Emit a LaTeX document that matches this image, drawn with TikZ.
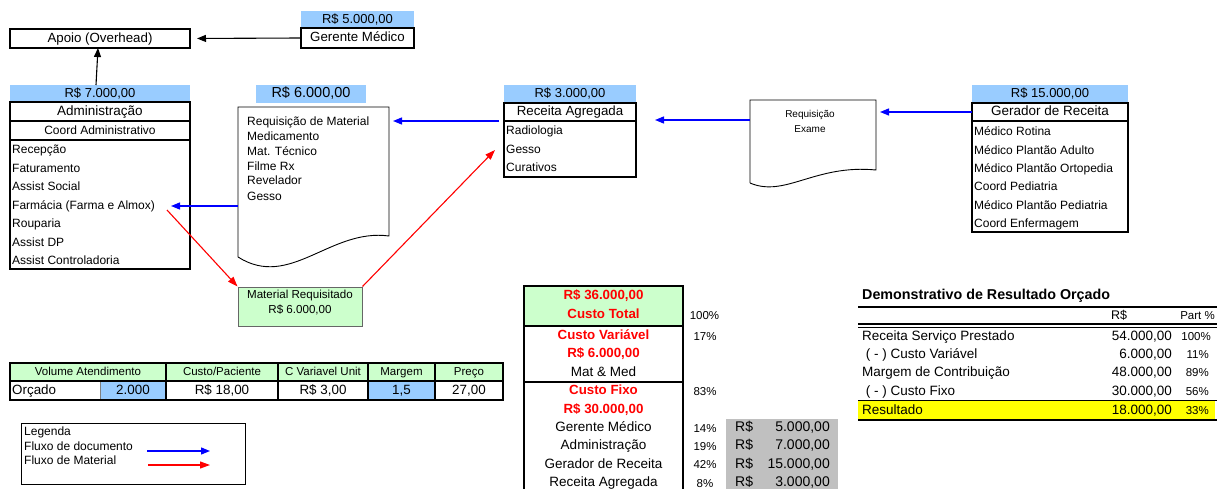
\documentclass[tikz,border=0pt]{standalone}
\usepackage{fontspec}
\setmainfont{Liberation Sans}
\usetikzlibrary{arrows.meta}
\definecolor{lblue}{HTML}{99CCFF}
\definecolor{lgreen}{HTML}{CCFFCC}
\definecolor{lgray}{HTML}{C0C0C0}
\definecolor{yel}{HTML}{FFFF00}
\newcommand{\myfs}[1]{\fontsize{#1}{#1}\selectfont}
\begin{document}
\begin{tikzpicture}[x=1pt,y=-1pt,
  money/.style={fill=lblue,inner sep=0pt,outer sep=0pt,text height=0.72em,text depth=0pt,font=\myfs{13}},
  tbox/.style={draw,line width=1.8pt,inner sep=0pt,outer sep=0pt,text height=0.72em,text depth=0pt,font=\myfs{13.3}},
  item/.style={anchor=west,inner sep=0pt,text height=0.72em,text depth=0pt,font=\myfs{12}},
  ctr/.style={anchor=center,inner sep=0pt,text height=0.72em,text depth=0pt,font=\myfs{12}},
  redb/.style={ctr,text=red,font=\myfs{13.3}\bfseries},
  pct/.style={ctr,font=\myfs{11.5}},
  doca/.style={draw=blue,line width=1.3pt,-{Triangle[length=9pt,width=7pt]}},
  mata/.style={draw=red,line width=1.1pt,-{Triangle[length=10pt,width=7pt]}},
  blka/.style={draw=black,line width=1.1pt,-{Triangle[length=9pt,width=7pt]}},
  docshape/.style={draw,line width=0.9pt,fill=white}
]
\useasboundingbox (0,0) rectangle (1217,489);

% ---------- top
\node[money,minimum width=113,minimum height=17] (m5) at (357.5,19.5) {R\$ 5.000,00};
\node[tbox,minimum width=113,minimum height=20] (gerente) at (357.5,38) {Gerente Médico};
\node[tbox,minimum width=180,minimum height=19] (apoio) at (100,38.5) {Apoio (Overhead)};
\draw[blka,shorten >=7pt] (gerente.west) -- (apoio.east);

% ---------- administracao
\node[money,minimum width=180,minimum height=17] (m7) at (100,93.5) {R\$ 7.000,00};
\draw[blka] ([xshift=-4pt]m7.north) -- ([xshift=-2pt]apoio.south);
\node[tbox,minimum width=180,minimum height=19,font=\myfs{13.5}] (adm) at (100,111.5) {Administração};
\node[tbox,minimum width=180,minimum height=19,font=\myfs{12}] (coord) at (100,130.5) {Coord Administrativo};
\node[tbox,minimum width=180,minimum height=129] (admlist) at (100,204.5) {};
\node[item] (a1) at (12,150) {Recepção};
\node[item] (a2) at (12,168.5) {Faturamento};
\node[item] (a3) at (12,187) {Assist Social};
\node[item] (farm) at (12,205.5) {Farmácia (Farma e Almox)};
\node[item] (a5) at (12,224) {Rouparia};
\node[item] (a6) at (12,242.5) {Assist DP};
\node[item] (a7) at (12,261) {Assist Controladoria};

% ---------- document A
\node[money,minimum width=110,minimum height=18,font=\myfs{14.5}] (m6) at (311,94) {R\$ 6.000,00};
\draw[docshape] (238,257) -- (238,107) -- (389,107) -- (389,236) .. controls (330,228) and (290,290) .. (238,257);
\node[inner sep=0pt,minimum width=151,minimum height=150] (docA) at (313.5,182) {};
\node[item] (d1) at (247,122) {Requisição de Material};
\node[item] (d2) at (247,137) {Medicamento};
\node[item] (d3) at (247,152) {Mat. Técnico};
\node[item] (d4) at (247,166.5) {Filme Rx};
\node[item] (d5) at (247,181) {Revelador};
\node[item] (d6) at (247,196.5) {Gesso};
\coordinate (farmtip) at (171,206);
\draw[doca] (docA.west |- farmtip) -- (farmtip);

% ---------- receita agregada
\node[money,minimum width=132,minimum height=18] (m3) at (570,94) {R\$ 3.000,00};
\node[tbox,minimum width=132,minimum height=18] (rec) at (570,112) {Receita Agregada};
\node[tbox,minimum width=132,minimum height=56] (reclist) at (570,149) {};
\node[item] (r1) at (506,131) {Radiologia};
\node[item] (r2) at (506,149.5) {Gesso};
\node[item] (r3) at (506,167.5) {Curativos};
\coordinate (docAin) at (393,121);
\draw[doca] ([xshift=-5pt]rec.south west) -- (docAin);

% ---------- document B
\draw[docshape] (750,183) -- (750,100) -- (876,100) -- (876,170) .. controls (815,164) and (785,198) .. (750,183);
\node[inner sep=0pt,minimum width=126,minimum height=86] (docB) at (813,143) {};
\node[ctr,font=\myfs{10}] (rq1) at (810,114) {Requisição};
\node[ctr,font=\myfs{10}] (rq2) at (810,129) {Exame};
\coordinate (recin) at (655,120);
\draw[doca] (docB.west |- recin) -- (recin);

% ---------- gerador de receita
\node[money,minimum width=156,minimum height=18] (m15) at (1050,94) {R\$ 15.000,00};
\node[tbox,minimum width=156,minimum height=18,font=\myfs{13.5}] (ger) at (1050,112) {Gerador de Receita};
\node[tbox,minimum width=156,minimum height=111] (gerlist) at (1050,176.5) {};
\node[item] (g1) at (974,132) {Médico Rotina};
\node[item] (g2) at (974,150.5) {Médico Plantão Adulto};
\node[item] (g3) at (974,169) {Médico Plantão Ortopedia};
\node[item] (g4) at (974,187) {Coord Pediatria};
\node[item] (g5) at (974,205.5) {Médico Plantão Pediatria};
\node[item] (g6) at (974,224) {Coord Enfermagem};
\coordinate (docBin) at (880,112);
\draw[doca] (ger.west) -- (docBin);

% ---------- material requisitado
\node[draw=black!60,fill=lgreen,line width=1pt,minimum width=124,minimum height=39,inner sep=0pt] (matreq) at (300,306.5) {};
\node[ctr,font=\myfs{11.6}] (mr1) at (300,295) {Material Requisitado};
\node[ctr,font=\myfs{11.6}] (mr2) at (300,310) {R\$ 6.000,00};
\coordinate (farmout) at (167,210);
\draw[mata] (farmout) -- (matreq.north west);
\coordinate (gessoin) at (495,150);
\draw[mata] (matreq.north east) -- (gessoin);

% ---------- volume table
\fill[lgreen] (10,363) rectangle (503,381);
\fill[lblue] (100,381) rectangle (166,400);
\fill[lblue] (368,381) rectangle (435,400);
\draw[line width=0.6pt,black!50] (100,381) -- (100,400);
\draw[line width=1.8pt] (10,363) rectangle (503,400);
\draw[line width=1.8pt] (10,381) -- (503,381);
\foreach \xx in {166,278,368,435} \draw[line width=1.8pt] (\xx,363) -- (\xx,400);
\node[pct] (h1) at (88,372) {Volume Atendimento};
\node[pct] (h2) at (222,372) {Custo/Paciente};
\node[pct] (h3) at (323,372) {C Variavel Unit};
\node[pct] (h4) at (401.5,372) {Margem};
\node[pct] (h5) at (469,372) {Preço};
\node[item,font=\myfs{13.4}] (v0) at (12,390.5) {Orçado};
\node[ctr,font=\myfs{13.4}] (v1) at (133,390.5) {2.000};
\node[ctr,font=\myfs{13.4}] (v2) at (222,390.5) {R\$ 18,00};
\node[ctr,font=\myfs{13.4}] (v3) at (323,390.5) {R\$ 3,00};
\node[ctr,font=\myfs{13.4}] (v4) at (401.5,390.5) {1,5};
\node[ctr,font=\myfs{13.4}] (v5) at (469,390.5) {27,00};

% ---------- legend
\node[draw,line width=0.8pt,minimum width=224,minimum height=61,inner sep=0pt] (leg) at (133,453.5) {};
\node[item] (l1) at (24,432) {Legenda};
\node[item] (l2) at (24,446.5) {Fluxo de documento};
\node[item] (l3) at (24,461) {Fluxo de Material};
\coordinate (lb1) at (147,451); \coordinate (lb2) at (210,451);
\coordinate (lr1) at (148,465); \coordinate (lr2) at (210,465);
\draw[doca] (lb1) -- (lb2);
\draw[mata] (lr1) -- (lr2);

% ---------- cost table
\fill[lgreen] (524,286) rectangle (683,325.5);
\fill[lgray] (726,419) rectangle (838,489);
\draw[line width=2pt] (524,489) -- (524,286) -- (683,286) -- (683,489);
\draw[line width=2pt] (524,326) -- (683,326);
\draw[line width=2pt] (524,382) -- (683,382);
\node[redb] (c1) at (603.5,296) {R\$ 36.000,00};
\node[redb] (c2) at (603.5,315) {Custo Total};
\node[redb] (c3) at (603.5,336) {Custo Variável};
\node[redb] (c4) at (603.5,354) {R\$ 6.000,00};
\node[ctr,font=\myfs{13.5}] (c5) at (603.5,373) {Mat \& Med};
\node[redb] (c6) at (603.5,391) {Custo Fixo};
\node[redb] (c7) at (603.5,410) {R\$ 30.000,00};
\node[ctr,font=\myfs{13.5}] (c8) at (603.5,428) {Gerente Médico};
\node[ctr,font=\myfs{13.5}] (c9) at (603.5,446) {Administração};
\node[ctr,font=\myfs{13.5}] (c10) at (603.5,465) {Gerador de Receita};
\node[ctr,font=\myfs{13.5}] (c11) at (603.5,483) {Receita Agregada};
\node[pct] (p1) at (704.5,316) {100\%};
\node[pct] (p2) at (705,337) {17\%};
\node[pct] (p3) at (705,392) {83\%};
\node[pct] (p4) at (705,429) {14\%};
\node[pct] (p5) at (705,447) {19\%};
\node[pct] (p6) at (705,465) {42\%};
\node[pct] (p7) at (705,484) {8\%};
\node[item,font=\myfs{14}] (gr1) at (735,428) {R\$};
\node[item,font=\myfs{14}] (gr2) at (735,446) {R\$};
\node[item,font=\myfs{14}] (gr3) at (735,464.5) {R\$};
\node[item,font=\myfs{14}] (gr4) at (735,483) {R\$};
\node[item,anchor=east,font=\myfs{14}] (gv1) at (830,428) {5.000,00};
\node[item,anchor=east,font=\myfs{14}] (gv2) at (830,446) {7.000,00};
\node[item,anchor=east,font=\myfs{14}] (gv3) at (830,464.5) {15.000,00};
\node[item,anchor=east,font=\myfs{14}] (gv4) at (830,483) {3.000,00};

% ---------- demonstrativo
\fill[yel] (858,401) rectangle (1215,419.5);
\node[item,font=\myfs{14.3}\bfseries] (dt) at (862,296) {Demonstrativo de Resultado Orçado};
\draw[line width=1.4pt] (858,307) -- (1217,307);
\draw[line width=1.2pt] (858,324) -- (1217,324);
\draw[line width=1.2pt] (858,327.5) -- (1217,327.5);
\draw[line width=1.8pt] (858,400.5) -- (1217,400.5);
\draw[line width=1.8pt] (858,420) -- (1217,420);
\node[ctr,font=\myfs{12.5}] (dh1) at (1119,316) {R\$};
\node[item,anchor=east,font=\myfs{11.5}] (dh2) at (1215,316) {Part \%};
\node[item,font=\myfs{13.5}] (dl1) at (862,337) {Receita Serviço Prestado};
\node[item,font=\myfs{13.5}] (dl2) at (862,355) {\ ( - ) Custo Variável};
\node[item,font=\myfs{13.5}] (dl3) at (862,373) {Margem de Contribuição};
\node[item,font=\myfs{13.5}] (dl4) at (862,392) {\ ( - ) Custo Fixo};
\node[item,font=\myfs{13.5}] (dl5) at (862,411) {Resultado};
\node[item,anchor=east,font=\myfs{13.5}] (dv1) at (1172,337) {54.000,00};
\node[item,anchor=east,font=\myfs{13.5}] (dv2) at (1172,355) {6.000,00};
\node[item,anchor=east,font=\myfs{13.5}] (dv3) at (1172,373) {48.000,00};
\node[item,anchor=east,font=\myfs{13.5}] (dv4) at (1172,392) {30.000,00};
\node[item,anchor=east,font=\myfs{13.5}] (dv5) at (1172,411) {18.000,00};
\node[item,anchor=east,font=\myfs{11.5}] (dp1) at (1211,337) {100\%};
\node[item,anchor=east,font=\myfs{11.5}] (dp2) at (1209,355) {11\%};
\node[item,anchor=east,font=\myfs{11.5}] (dp3) at (1209,373) {89\%};
\node[item,anchor=east,font=\myfs{11.5}] (dp4) at (1209,392) {56\%};
\node[item,anchor=east,font=\myfs{11.5}] (dp5) at (1209,411) {33\%};
\end{tikzpicture}
\end{document}
